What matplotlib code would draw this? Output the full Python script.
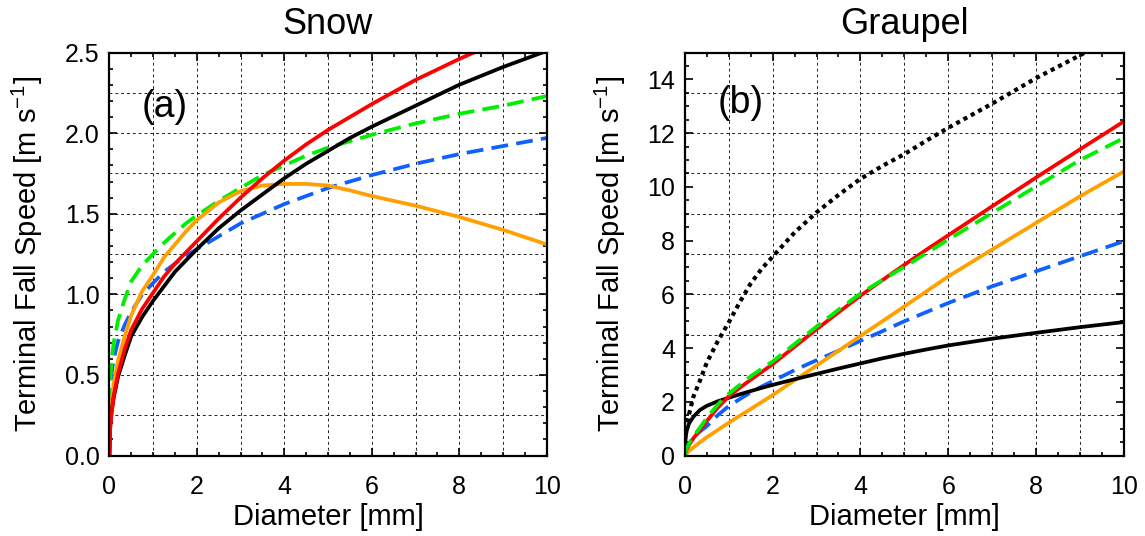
import numpy as np
import matplotlib
matplotlib.use("Agg")
import matplotlib.pyplot as plt
from matplotlib.ticker import MultipleLocator, FormatStrFormatter

plt.rcParams['font.family'] = ['Liberation Sans', 'DejaVu Sans']
plt.rcParams['mathtext.fontset'] = 'custom'
plt.rcParams['mathtext.rm'] = 'Liberation Sans'
plt.rcParams['mathtext.default'] = 'regular'

# ---- data ----
diameter = [0, 0.02, 0.05, 0.1, 0.2, 0.35, 0.5, 0.75, 1, 1.25, 1.5, 1.75, 2, 2.5, 3, 3.5, 4, 4.5, 5, 5.5, 6, 7, 8, 9, 10]

snow_black  = [0, 0.19, 0.27, 0.36, 0.49, 0.62, 0.74, 0.86, 0.96, 1.05, 1.14, 1.21, 1.28, 1.41, 1.52, 1.62, 1.72, 1.81, 1.89, 1.97, 2.04, 2.17, 2.30, 2.41, 2.51]
snow_red    = [0, 0.17, 0.26, 0.37, 0.51, 0.66, 0.78, 0.91, 1.01, 1.11, 1.19, 1.26, 1.33, 1.47, 1.60, 1.72, 1.83, 1.93, 2.02, 2.10, 2.18, 2.33, 2.46, 2.58, 2.70]
snow_green  = [0, 0.47, 0.59, 0.70, 0.84, 0.97, 1.08, 1.18, 1.25, 1.32, 1.38, 1.44, 1.49, 1.58, 1.66, 1.74, 1.80, 1.86, 1.91, 1.95, 1.99, 2.06, 2.12, 2.17, 2.23]
snow_blue   = [0, 0.40, 0.51, 0.60, 0.71, 0.81, 0.89, 1.00, 1.07, 1.14, 1.19, 1.24, 1.28, 1.36, 1.44, 1.50, 1.56, 1.61, 1.66, 1.70, 1.74, 1.81, 1.87, 1.92, 1.97]
snow_orange = [0, 0.22, 0.33, 0.45, 0.59, 0.74, 0.87, 1.02, 1.12, 1.23, 1.31, 1.39, 1.46, 1.57, 1.64, 1.675, 1.685, 1.685, 1.675, 1.645, 1.61, 1.55, 1.48, 1.40, 1.31]

grau_black  = [0, 0.70, 0.95, 1.20, 1.45, 1.70, 1.85, 2.02, 2.15, 2.28, 2.40, 2.52, 2.63, 2.84, 3.04, 3.24, 3.43, 3.62, 3.79, 3.95, 4.10, 4.35, 4.57, 4.78, 4.97]
grau_dotted = [0, 0.90, 1.20, 1.55, 2.20, 2.80, 3.45, 4.25, 4.95, 5.70, 6.40, 6.95, 7.40, 8.30, 9.05, 9.70, 10.30, 10.78, 11.22, 11.72, 12.20, 13.10, 14.05, 14.90, 15.80]
grau_red    = [0, 0.12, 0.25, 0.40, 0.65, 0.95, 1.28, 1.78, 2.20, 2.52, 2.82, 3.11, 3.40, 4.05, 4.70, 5.33, 5.95, 6.53, 7.10, 7.66, 8.20, 9.28, 10.35, 11.40, 12.44]
grau_green  = [0, 0.15, 0.30, 0.45, 0.72, 1.05, 1.40, 1.90, 2.30, 2.63, 2.95, 3.23, 3.50, 4.15, 4.80, 5.43, 6.03, 6.54, 7.02, 7.53, 8.04, 9.03, 10.02, 11.00, 11.82]
grau_blue   = [0, 0.15, 0.30, 0.45, 0.68, 0.90, 1.09, 1.50, 1.84, 2.10, 2.35, 2.57, 2.77, 3.18, 3.55, 3.90, 4.27, 4.63, 5.00, 5.34, 5.68, 6.30, 6.86, 7.42, 7.98]
grau_orange = [0, 0.04, 0.09, 0.17, 0.31, 0.50, 0.68, 0.95, 1.22, 1.48, 1.73, 1.99, 2.25, 2.80, 3.35, 3.90, 4.45, 5.00, 5.55, 6.11, 6.67, 7.67, 8.66, 9.65, 10.58]

titles = ["Snow", "Graupel"]
panel_tags = ["(a)", "(b)"]
xlabel = "Diameter [mm]"
ylabel = "Terminal Fall Speed [m s$^{-1}$]"

# ---- styling ----
C_BLACK = "#000000"
C_RED = "#ff0000"
C_GREEN = "#00ee00"
C_BLUE = "#1060ff"
C_ORANGE = "#ffa000"
LW = 2.7
DASH = (0, (4.5, 2.2))

fig = plt.figure(figsize=(11.45, 5.36), dpi=100)
axA = fig.add_axes([0.0955, 0.150, 0.382, 0.752])
axB = fig.add_axes([0.598, 0.150, 0.3837, 0.752])

def style_axes(ax, ymax, ymajor, yminor, ygrid):
    ax.set_xlim(0, 10)
    ax.set_ylim(0, ymax)
    ax.xaxis.set_major_locator(MultipleLocator(2))
    ax.xaxis.set_minor_locator(MultipleLocator(0.5))
    ax.yaxis.set_major_locator(MultipleLocator(ymajor))
    ax.yaxis.set_minor_locator(MultipleLocator(yminor))
    ax.tick_params(which='both', direction='in', top=True, right=True, width=1.2)
    ax.tick_params(which='major', length=6, labelsize=18)
    ax.tick_params(which='minor', length=3)
    ax.tick_params(axis='x', pad=14)
    ax.tick_params(axis='y', pad=7)
    for s in ax.spines.values():
        s.set_linewidth(1.6)
    for gx in np.arange(1, 10, 1):
        ax.axvline(gx, color='#222222', lw=0.7, ls=(0, (3, 3)), zorder=0)
    for gy in np.arange(ygrid, ymax - 1e-9, ygrid):
        ax.axhline(gy, color='#222222', lw=0.7, ls=(0, (3, 3)), zorder=0)
    ax.set_xlabel(xlabel, fontsize=21, labelpad=3)
    ax.set_ylabel(ylabel, fontsize=21, labelpad=14)

style_axes(axA, 2.5, 0.5, 0.1, 0.25)
style_axes(axB, 15, 2, 0.5, 1.5)
axA.yaxis.set_major_formatter(FormatStrFormatter('%.1f'))

# snow
axA.plot(diameter, snow_blue, color=C_BLUE, lw=LW, ls=DASH)
axA.plot(diameter, snow_green, color=C_GREEN, lw=LW, ls=DASH)
axA.plot(diameter, snow_orange, color=C_ORANGE, lw=LW)
axA.plot(diameter, snow_black, color=C_BLACK, lw=LW)
axA.plot(diameter, snow_red, color=C_RED, lw=LW)

# graupel
axB.plot(diameter, grau_dotted, color=C_BLACK, lw=3.0, ls=(0, (1, 1)))
axB.plot(diameter, grau_blue, color=C_BLUE, lw=LW, ls=DASH)
axB.plot(diameter, grau_orange, color=C_ORANGE, lw=LW)
axB.plot(diameter, grau_black, color=C_BLACK, lw=LW)
axB.plot(diameter, grau_red, color=C_RED, lw=LW)
axB.plot(diameter, grau_green, color=C_GREEN, lw=LW, ls=DASH)

for ax, t, tag, ty in [(axA, titles[0], panel_tags[0], 0.864), (axB, titles[1], panel_tags[1], 0.875)]:
    ax.set_title(t, fontsize=26, pad=13)
    ax.text(0.074, ty, tag, transform=ax.transAxes, fontsize=27, ha='left', va='center')

fig.savefig("out.png", dpi=100)
